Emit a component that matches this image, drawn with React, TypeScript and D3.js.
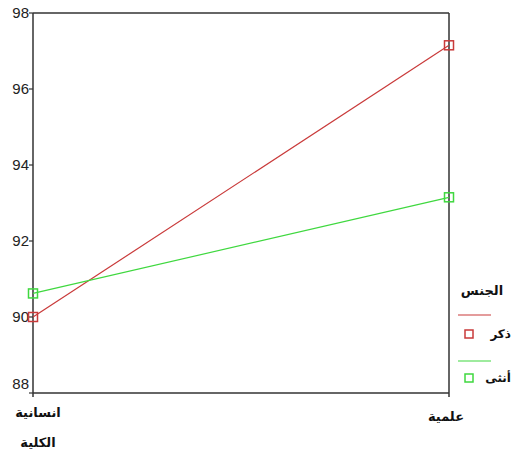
import React from "react";
import * as d3 from "d3";

const categories = ["انسانية", "علمية"];
const maleValues = [90.0, 97.15];
const femaleValues = [90.62, 93.15];
const yTicks = [88, 90, 92, 94, 96, 98];
const seriesNames = ["ذكر", "أنثى"];
const legendTitle = "الجنس";
const xTitle = "الكلية";

const RED = "#c93a3a";
const GREEN = "#3fd83f";

export default function App() {
  const W = 512, H = 461;
  const left = 33, right = 449, top = 13, bottom = 393;
  const x = d3.scalePoint<string>().domain(categories).range([left, right]);
  const y = d3.scaleLinear().domain([88, 98]).range([bottom, top]);
  const line = d3.line<number>().x((_, i) => x(categories[i])!).y((d) => y(d));
  const series = [
    { name: seriesNames[0], values: maleValues, color: RED },
    { name: seriesNames[1], values: femaleValues, color: GREEN },
  ];
  const arabicFont = "'DejaVu Sans', sans-serif";
  return (
    <svg width={W} height={H} style={{ position: "absolute", left: 0, top: 0, background: "#fff" }}>
      <rect x={0} y={0} width={W} height={H} fill="#fff" />
      <line x1={left} y1={top} x2={right} y2={top} stroke="#333" strokeWidth={1.5} />
      <line x1={right} y1={top} x2={right} y2={bottom + 4} stroke="#333" strokeWidth={1.5} />
      <line x1={left} y1={top} x2={left} y2={bottom + 4} stroke="#333" strokeWidth={1.5} />
      <line x1={left} y1={bottom} x2={right} y2={bottom} stroke="#333" strokeWidth={1.5} />
      {yTicks.map((t) => (
        <g key={t}>
          <line x1={left - 4} x2={left} y1={y(t)} y2={y(t)} stroke="#333" strokeWidth={1.2} />
          <text
            x={left - 4}
            y={t === 88 ? y(t) - 9 : y(t)}
            dy="0.35em"
            textAnchor="end"
            fontFamily="'Liberation Sans', Arial, sans-serif"
            fontSize={15}
            fill="#222"
          >
            {t}
          </text>
        </g>
      ))}
      {series.map((s) => (
        <g key={s.name}>
          <path d={line(s.values)!} fill="none" stroke={s.color} strokeWidth={1.2} />
          {s.values.map((v, i) => (
            <rect
              key={i}
              x={x(categories[i])! - 4.5}
              y={y(v) - 4.5}
              width={9}
              height={9}
              fill="none"
              stroke={s.color}
              strokeWidth={1.5}
            />
          ))}
        </g>
      ))}
      <text x={38} y={412} dy="0.35em" textAnchor="middle" fontFamily={arabicFont} fontWeight="bold" fontSize={13} fill="#111">
        {categories[0]}
      </text>
      <text x={446} y={416} dy="0.35em" textAnchor="middle" fontFamily={arabicFont} fontWeight="bold" fontSize={13} fill="#111">
        {categories[1]}
      </text>
      <text x={38} y={442} dy="0.35em" textAnchor="middle" fontFamily={arabicFont} fontWeight="bold" fontSize={13} fill="#111">
        {xTitle}
      </text>
      <text x={482} y={290} dy="0.35em" textAnchor="middle" fontFamily={arabicFont} fontWeight="bold" fontSize={13} fill="#111">
        {legendTitle}
      </text>
      {series.map((s, i) => {
        const ly = 315 + i * 46;
        const my = 334 + i * 44;
        return (
          <g key={s.name}>
            <line x1={458} x2={491} y1={ly} y2={ly} stroke={s.color} strokeWidth={1.2} />
            <rect x={465} y={my - 4} width={8} height={8} fill="none" stroke={s.color} strokeWidth={1.5} />
            <text x={511} y={my} dy="0.35em" textAnchor="end" fontFamily={arabicFont} fontWeight="bold" fontSize={12} fill="#111">
              {s.name}
            </text>
          </g>
        );
      })}
    </svg>
  );
}
